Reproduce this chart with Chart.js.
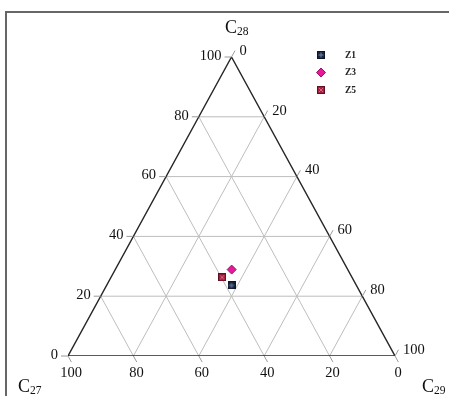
<!DOCTYPE html>
<html>
<head>
<meta charset="utf-8">
<script src="https://cdn.jsdelivr.net/npm/chart.js@4/dist/chart.umd.min.js"></script>
<style>
html, body { margin: 0; padding: 0; background: #fff; }
canvas { display: block; }
</style>
</head>
<body>
<canvas id="myChart" width="449" height="396"></canvas>
<script>
// ternary data: C27 / C28 / C29 (%)
var samples = ['Z1', 'Z3', 'Z5'];
var c27 = [38.2, 35.5, 39.7];
var c28 = [23.6, 28.9, 26.3];
var c29 = [38.2, 35.6, 34.0];
var ticks = [0, 20, 40, 60, 80, 100];

var SERIF = '"Liberation Serif", "DejaVu Serif", serif';

// ternary -> cartesian (0..100 on both axes)
function tern(a, b, c) {
    var s = a + b + c;
    return { x: (c + b / 2) / s * 100, y: b / s * 100 };
}

function boxMarker(fill, edge, mark, kind) {
    var cv = document.createElement('canvas');
    cv.width = 8; cv.height = 8;
    var g = cv.getContext('2d');
    g.fillStyle = edge; g.fillRect(0, 0, 8, 8);
    g.fillStyle = fill; g.fillRect(1, 1, 6, 6);
    g.strokeStyle = mark; g.lineWidth = 1;
    g.beginPath();
    if (kind == 'plus') {
        g.moveTo(4, 1.5); g.lineTo(4, 6.5);
        g.moveTo(1.5, 4); g.lineTo(6.5, 4);
    } else {
        g.moveTo(2, 2); g.lineTo(6, 6);
        g.moveTo(6, 2); g.lineTo(2, 6);
    }
    g.stroke();
    return cv;
}

var styles = [
    { pointStyle: boxMarker('#1b2742', '#0e1526', '#7184aa', 'plus'), bg: '#1b2742', bd: '#0e1526' },
    { pointStyle: 'rectRot', bg: '#e8189c', bd: '#9a1268' },
    { pointStyle: boxMarker('#a71f3f', '#5e0f22', '#d8667e', 'cross'), bg: '#a71f3f', bd: '#5e0f22' }
];

var datasets = [];

// sample points
samples.forEach(function (name, i) {
    datasets.push({
        label: name,
        data: [tern(c27[i], c28[i], c29[i])],
        pointStyle: styles[i].pointStyle,
        pointRadius: 4.5,
        backgroundColor: styles[i].bg,
        borderColor: styles[i].bd,
        borderWidth: 1,
        order: 0
    });
});

// triangle outline
datasets.push({
    label: 'edge',
    data: [tern(100, 0, 0), tern(0, 100, 0), tern(0, 0, 100), tern(100, 0, 0)],
    showLine: true,
    pointRadius: 0,
    borderColor: '#262626',
    borderWidth: 1.4,
    order: 1
});

// grid
ticks.slice(1, -1).forEach(function (t) {
    var lines = [
        [tern(100 - t, t, 0), tern(0, t, 100 - t)],
        [tern(t, 100 - t, 0), tern(t, 0, 100 - t)],
        [tern(100 - t, 0, t), tern(0, 100 - t, t)]
    ];
    lines.forEach(function (l) {
        datasets.push({
            label: 'grid',
            data: l,
            showLine: true,
            pointRadius: 0,
            borderColor: '#bdbdbd',
            borderWidth: 1,
            order: 2
        });
    });
});

function axisTitle(ctx, x, y, sub) {
    ctx.fillStyle = '#111';
    ctx.textAlign = 'left';
    ctx.textBaseline = 'alphabetic';
    ctx.font = '18px ' + SERIF;
    ctx.fillText('C', x, y);
    var w = ctx.measureText('C').width;
    ctx.font = '11.5px ' + SERIF;
    ctx.fillText(sub, x + w, y + 1.5);
}

var ternPlugin = {
    id: 'ternAxes',
    beforeDraw: function (chart) {
        var ctx = chart.ctx;
        ctx.save();
        ctx.strokeStyle = '#666';
        ctx.lineWidth = 2;
        ctx.beginPath();
        ctx.moveTo(6, 396); ctx.lineTo(6, 12); ctx.lineTo(449, 12);
        ctx.stroke();
        ctx.restore();
    },
    afterDraw: function (chart) {
        var ctx = chart.ctx;
        var xs = chart.scales.x, ys = chart.scales.y;
        function px(p) { return { x: xs.getPixelForValue(p.x), y: ys.getPixelForValue(p.y) }; }
        ctx.save();
        ctx.font = '14.5px ' + SERIF;
        ctx.lineWidth = 1;
        ctx.strokeStyle = '#9a9a9a';
        ticks.forEach(function (t) {
            // left edge: C28
            var p = px(tern(100 - t, t, 0));
            ctx.beginPath(); ctx.moveTo(p.x, p.y); ctx.lineTo(p.x - 7, p.y); ctx.stroke();
            ctx.fillStyle = '#111';
            ctx.textAlign = 'right'; ctx.textBaseline = 'middle';
            ctx.fillText(String(t), p.x - 10, p.y - 1);
            // right edge: C29
            p = px(tern(0, 100 - t, t));
            ctx.beginPath(); ctx.moveTo(p.x, p.y); ctx.lineTo(p.x + 3.5, p.y - 6.3); ctx.stroke();
            ctx.textAlign = 'left';
            ctx.fillText(String(t), p.x + 8, p.y - 6);
            // bottom edge: C27
            p = px(tern(t, 0, 100 - t));
            ctx.beginPath(); ctx.moveTo(p.x, p.y); ctx.lineTo(p.x + 3.4, p.y + 6.1); ctx.stroke();
            ctx.textAlign = 'center'; ctx.textBaseline = 'middle';
            ctx.fillText(String(t), p.x + 3, p.y + 17);
        });

        axisTitle(ctx, 225, 33, '28');
        axisTitle(ctx, 18, 392, '27');
        axisTitle(ctx, 422, 392, '29');

        // legend
        var ly = [55, 72.5, 90];
        samples.forEach(function (name, i) {
            var st = styles[i].pointStyle;
            if (typeof st == 'string') {
                ctx.beginPath();
                ctx.moveTo(321, ly[i] - 4.5); ctx.lineTo(325.5, ly[i]);
                ctx.lineTo(321, ly[i] + 4.5); ctx.lineTo(316.5, ly[i]);
                ctx.closePath();
                ctx.fillStyle = styles[i].bg; ctx.fill();
                ctx.strokeStyle = styles[i].bd; ctx.stroke();
            } else {
                ctx.drawImage(st, 321 - st.width / 2, ly[i] - st.height / 2);
            }
            ctx.fillStyle = '#222';
            ctx.font = 'bold 9.5px ' + SERIF;
            ctx.textAlign = 'left'; ctx.textBaseline = 'middle';
            ctx.fillText(name, 345, ly[i] + 0.5);
        });
        ctx.restore();
    }
};

var ctx = document.getElementById('myChart').getContext('2d');
var myChart = new Chart(ctx, {
    type: 'scatter',
    data: { datasets: datasets },
    options: {
        responsive: false,
        animation: false,
        layout: { padding: { left: 68, right: 54, top: 57, bottom: 40 } },
        scales: {
            x: { type: 'linear', min: 0, max: 100, display: false },
            y: { type: 'linear', min: 0, max: 100, display: false }
        },
        plugins: {
            legend: { display: false },
            tooltip: { enabled: false }
        }
    },
    plugins: [ternPlugin]
});
</script>
</body>
</html>
